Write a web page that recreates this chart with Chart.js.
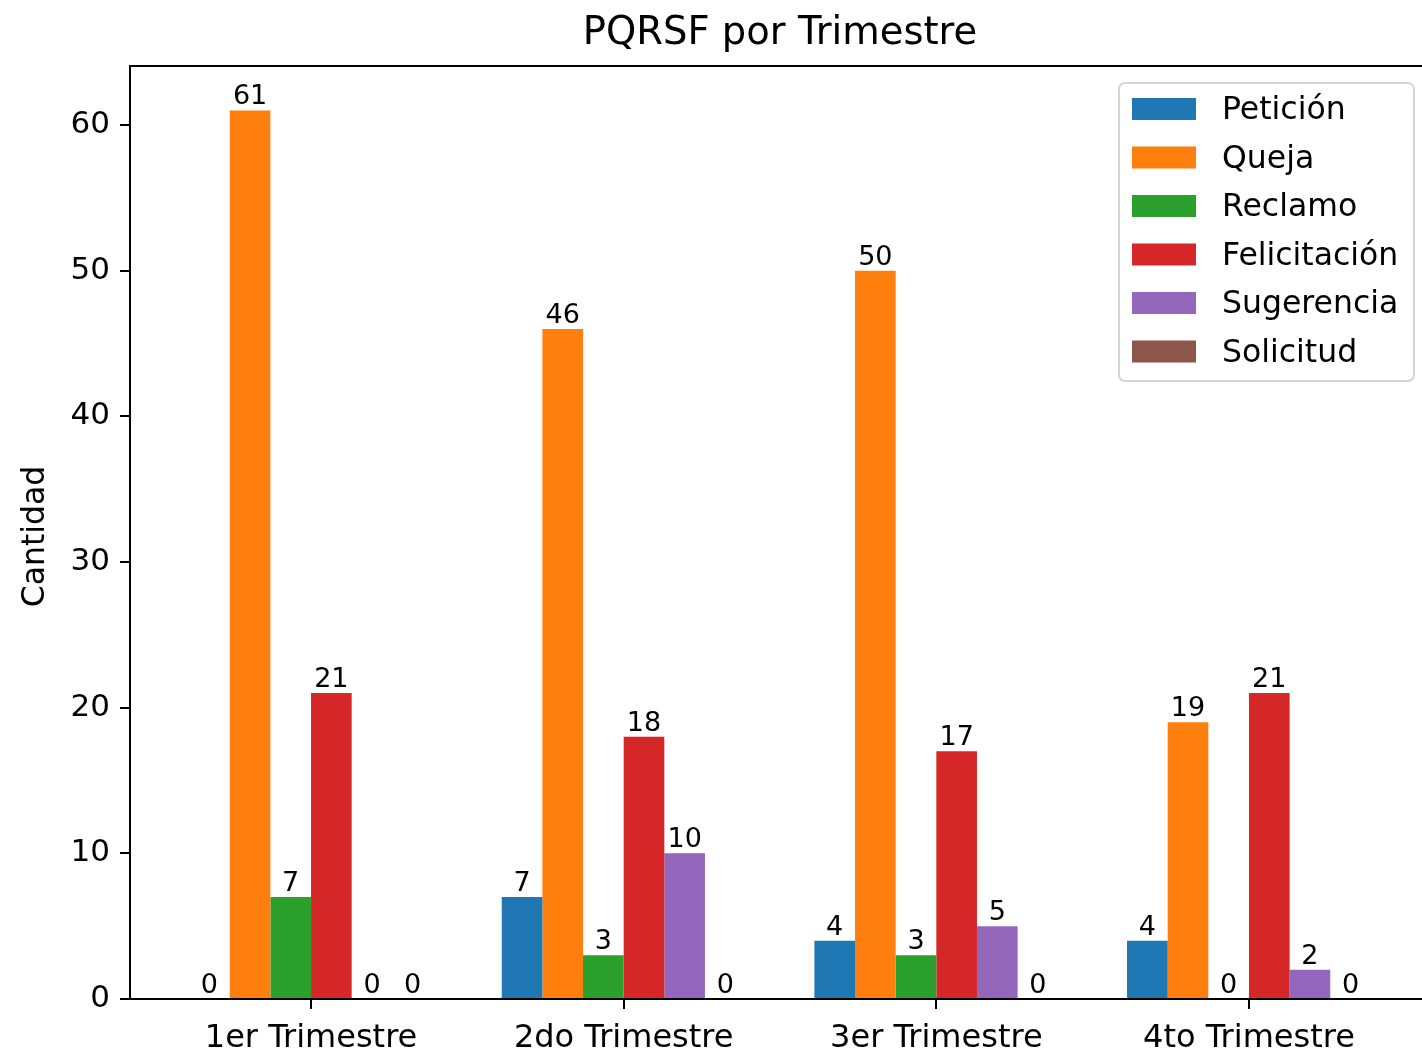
<!DOCTYPE html>
<html>
<head>
<meta charset="utf-8">
<script src="https://cdn.jsdelivr.net/npm/chart.js@4.4.1/dist/chart.umd.min.js"></script>
<style>
  html, body { margin: 0; padding: 0; background: #fff; overflow: hidden; }
  #chart { display: block; }
</style>
</head>
<body>
<canvas id="chart" width="1440" height="1052"></canvas>
<script>
// datos
const trimestres = ['1er Trimestre', '2do Trimestre', '3er Trimestre', '4to Trimestre'];
const tipos = ['Petición', 'Queja', 'Reclamo', 'Felicitación', 'Sugerencia', 'Solicitud'];
const peticion = [0, 7, 4, 4];
const queja = [61, 46, 50, 19];
const reclamo = [7, 3, 3, 0];
const felicitacion = [21, 18, 17, 21];
const sugerencia = [0, 10, 5, 2];
const solicitud = [0, 0, 0, 0];
const yTicks = [0, 10, 20, 30, 40, 50, 60];
const colores = ['#1f77b4', '#ff7f0e', '#2ca02c', '#d62728', '#9467bd', '#8c564b'];

const series = [peticion, queja, reclamo, felicitacion, sugerencia, solicitud];
const FONT = '"DejaVu Sans", sans-serif';

// limites como matplotlib (margen 5%)
const barW = 0.13;
const xLo = -2.5 * barW - barW / 2, xHi = trimestres.length - 1 + 2.5 * barW + barW / 2;
const xPad = (xHi - xLo) * 0.05;
const yMax = Math.max(...series.flat()) * 1.05;

const datasets = tipos.map((t, j) => ({
    label: t,
    data: trimestres.map((c, i) => ({ x: i, y: series[j][i] })),
    backgroundColor: colores[j],
    borderWidth: 0,
    categoryPercentage: barW * tipos.length,
    barPercentage: 1
}));

// titulo, etiqueta Y, bordes, leyenda y valores
const extras = {
    id: 'extras',
    afterDatasetsDraw(chart) {
        const ctx = chart.ctx;
        ctx.save();
        // valores sobre las barras
        ctx.fillStyle = '#000';
        ctx.font = '27px ' + FONT;
        ctx.textAlign = 'center';
        ctx.textBaseline = 'alphabetic';
        chart.data.datasets.forEach((ds, j) => {
            chart.getDatasetMeta(j).data.forEach((el, i) => {
                ctx.fillText(String(ds.data[i].y), el.x, el.y - 6);
            });
        });
        ctx.restore();
    },
    afterDraw(chart) {
        const ctx = chart.ctx, a = chart.chartArea;
        ctx.save();
        // spines arriba y derecha
        ctx.strokeStyle = '#000';
        ctx.lineWidth = 2;
        ctx.beginPath();
        ctx.moveTo(a.left, a.top); ctx.lineTo(a.right, a.top);
        ctx.moveTo(a.right, a.top); ctx.lineTo(a.right, a.bottom);
        ctx.stroke();

        ctx.fillStyle = '#000';
        ctx.textAlign = 'center';
        ctx.textBaseline = 'middle';
        ctx.font = '38.5px ' + FONT;
        ctx.fillText('PQRSF por Trimestre', (a.left + a.right) / 2, 34);

        ctx.save();
        ctx.translate(36, (a.top + a.bottom) / 2 + 4);
        ctx.rotate(-Math.PI / 2);
        ctx.font = '31.5px ' + FONT;
        ctx.fillText('Cantidad', 0, 0);
        ctx.restore();

        // leyenda
        const lx = 1119, ly = 83, lw = 295, lh = 298;
        ctx.beginPath();
        ctx.roundRect(lx, ly, lw, lh, 6);
        ctx.fillStyle = 'rgba(255,255,255,0.8)';
        ctx.fill();
        ctx.strokeStyle = '#d4d4d4';
        ctx.lineWidth = 2;
        ctx.stroke();
        ctx.font = '31.5px ' + FONT;
        ctx.textAlign = 'left';
        tipos.forEach((t, j) => {
            const cy = 109 + j * 48.5;
            ctx.fillStyle = colores[j];
            ctx.fillRect(1132, cy - 11, 64, 22);
            ctx.fillStyle = '#000';
            ctx.fillText(t, 1222, cy + 2);
        });
        ctx.restore();
    }
};

const chart = new Chart(document.getElementById('chart'), {
    type: 'bar',
    data: { datasets: datasets },
    options: {
        responsive: false,
        devicePixelRatio: 1,
        animation: false,
        layout: { padding: { top: 66, right: 10, left: 0, bottom: 0 } },
        plugins: { legend: { display: false }, tooltip: { enabled: false } },
        scales: {
            x: {
                type: 'linear',
                offset: false,
                min: xLo - xPad,
                max: xHi + xPad,
                afterBuildTicks: s => { s.ticks = trimestres.map((c, i) => ({ value: i })); },
                afterFit: s => { s.height = 53; },
                grid: { offset: false, drawOnChartArea: false, drawTicks: true, tickLength: 10, color: '#000', lineWidth: 2 },
                border: { display: true, color: '#000', width: 2 },
                ticks: {
                    autoSkip: false,
                    maxRotation: 0,
                    padding: 10,
                    color: '#000',
                    font: { family: FONT, size: 32 },
                    callback: v => trimestres[v]
                }
            },
            y: {
                min: 0,
                max: yMax,
                afterBuildTicks: s => { s.ticks = yTicks.map(v => ({ value: v })); },
                afterFit: s => { s.width = 130; },
                grid: { drawOnChartArea: false, drawTicks: true, tickLength: 10, color: '#000', lineWidth: 2 },
                border: { display: true, color: '#000', width: 2 },
                ticks: { padding: 10, color: '#000', font: { family: FONT, size: 31 } }
            }
        }
    },
    plugins: [extras]
});
</script>
</body>
</html>
